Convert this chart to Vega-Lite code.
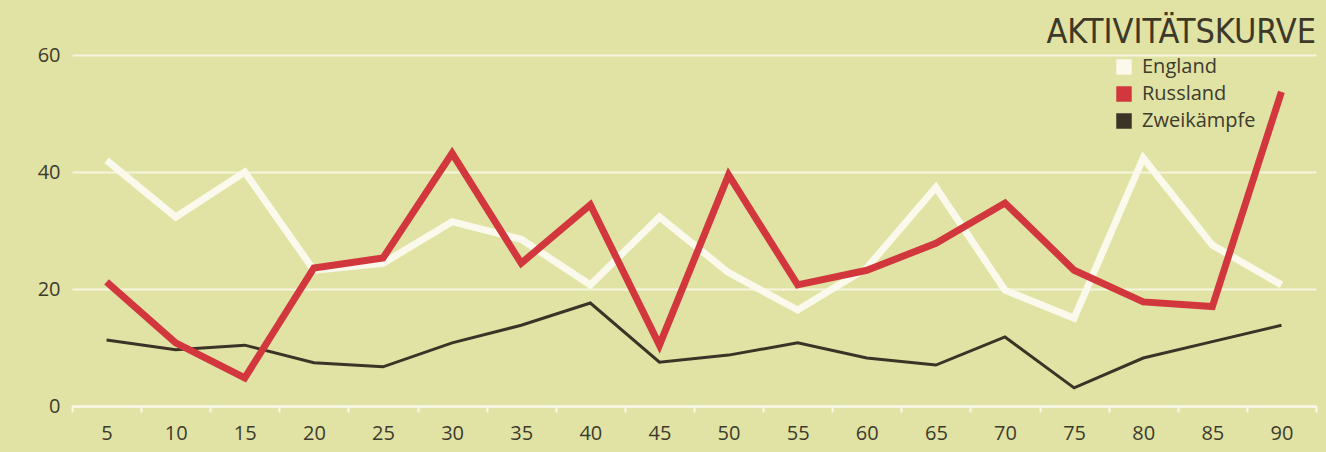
{
  "$schema": "https://vega.github.io/schema/vega-lite/v6.json",
  "autosize": {"type": "none"},
  "width": 1244,
  "height": 351,
  "padding": {"left": 72, "top": 55, "right": 10, "bottom": 46},
  "background": "#e0e3a4",
  "title": {
    "text": "AKTIVITÄTSKURVE",
    "anchor": "end",
    "orient": "top",
    "frame": "group",
    "font": "DejaVu Sans Condensed",
    "fontSize": 34,
    "fontWeight": "normal",
    "color": "#3e3828",
    "offset": 0,
    "baseline": "top",
    "dy": 5
  },
  "config": {
    "view": {"stroke": null},
    "font": "Open Sans"
  },
  "data": {
    "values": [
      {"min": 5, "series": "England", "value": 42.0},
      {"min": 10, "series": "England", "value": 32.3},
      {"min": 15, "series": "England", "value": 40.0},
      {"min": 20, "series": "England", "value": 23.2},
      {"min": 25, "series": "England", "value": 24.4},
      {"min": 30, "series": "England", "value": 31.5},
      {"min": 35, "series": "England", "value": 28.5},
      {"min": 40, "series": "England", "value": 20.7},
      {"min": 45, "series": "England", "value": 32.3},
      {"min": 50, "series": "England", "value": 22.8},
      {"min": 55, "series": "England", "value": 16.4},
      {"min": 60, "series": "England", "value": 23.6},
      {"min": 65, "series": "England", "value": 37.4},
      {"min": 70, "series": "England", "value": 19.8},
      {"min": 75, "series": "England", "value": 15.0},
      {"min": 80, "series": "England", "value": 42.4},
      {"min": 85, "series": "England", "value": 27.5},
      {"min": 90, "series": "England", "value": 20.7},
      {"min": 5, "series": "Russland", "value": 21.2},
      {"min": 10, "series": "Russland", "value": 10.8},
      {"min": 15, "series": "Russland", "value": 4.8},
      {"min": 20, "series": "Russland", "value": 23.6},
      {"min": 25, "series": "Russland", "value": 25.3},
      {"min": 30, "series": "Russland", "value": 43.2},
      {"min": 35, "series": "Russland", "value": 24.4},
      {"min": 40, "series": "Russland", "value": 34.4},
      {"min": 45, "series": "Russland", "value": 10.4},
      {"min": 50, "series": "Russland", "value": 39.5},
      {"min": 55, "series": "Russland", "value": 20.7},
      {"min": 60, "series": "Russland", "value": 23.2},
      {"min": 65, "series": "Russland", "value": 27.8},
      {"min": 70, "series": "Russland", "value": 34.7},
      {"min": 75, "series": "Russland", "value": 23.2},
      {"min": 80, "series": "Russland", "value": 17.8},
      {"min": 85, "series": "Russland", "value": 17.0},
      {"min": 90, "series": "Russland", "value": 53.7},
      {"min": 5, "series": "Zweikämpfe", "value": 11.3},
      {"min": 10, "series": "Zweikämpfe", "value": 9.6},
      {"min": 15, "series": "Zweikämpfe", "value": 10.4},
      {"min": 20, "series": "Zweikämpfe", "value": 7.4},
      {"min": 25, "series": "Zweikämpfe", "value": 6.7},
      {"min": 30, "series": "Zweikämpfe", "value": 10.8},
      {"min": 35, "series": "Zweikämpfe", "value": 13.8},
      {"min": 40, "series": "Zweikämpfe", "value": 17.6},
      {"min": 45, "series": "Zweikämpfe", "value": 7.5},
      {"min": 50, "series": "Zweikämpfe", "value": 8.7},
      {"min": 55, "series": "Zweikämpfe", "value": 10.8},
      {"min": 60, "series": "Zweikämpfe", "value": 8.2},
      {"min": 65, "series": "Zweikämpfe", "value": 7.0},
      {"min": 70, "series": "Zweikämpfe", "value": 11.8},
      {"min": 75, "series": "Zweikämpfe", "value": 3.1},
      {"min": 80, "series": "Zweikämpfe", "value": 8.2},
      {"min": 85, "series": "Zweikämpfe", "value": 11.0},
      {"min": 90, "series": "Zweikämpfe", "value": 13.8}
    ]
  },
  "encoding": {
    "x": {
      "field": "min",
      "type": "ordinal",
      "bandPosition": 0.5,
      "scale": {"type": "band", "paddingInner": 0, "paddingOuter": 0},
      "axis": {
        "title": null,
        "labelAngle": 0,
        "labelFontSize": 20,
        "labelFontWeight": 500,
        "labelColor": "#3d3b2d",
        "labelPadding": 11,
        "tickBand": "extent",
        "tickColor": "#f8f6e4",
        "tickWidth": 2,
        "tickSize": 6,
        "domainColor": "#f8f6e4",
        "domainWidth": 2.5,
        "grid": false
      }
    },
    "y": {
      "field": "value",
      "type": "quantitative",
      "scale": {"domain": [0, 60], "nice": false},
      "axis": {
        "title": null,
        "values": [0, 20, 40, 60],
        "labelFontSize": 20,
        "labelFontWeight": 500,
        "labelColor": "#3d3b2d",
        "labelPadding": 12,
        "ticks": false,
        "domain": false,
        "grid": true,
        "gridColor": "#f8f6e4",
        "gridWidth": 2,
        "gridOpacity": 0.9
      }
    },
    "color": {
      "field": "series",
      "type": "nominal",
      "scale": {
        "domain": ["England", "Russland", "Zweikämpfe"],
        "range": ["#fbf9ec", "#d2373d", "#3b3426"]
      },
      "legend": {
        "title": null,
        "orient": "none",
        "legendX": 1042,
        "legendY": 2,
        "symbolType": "square",
        "symbolSize": 240,
        "symbolStrokeWidth": 0,
        "symbolOpacity": 1,
        "labelFontSize": 20,
        "labelFontWeight": 500,
        "labelColor": "#3d3b2d",
        "labelFont": "Open Sans",
        "rowPadding": 7,
        "labelOffset": 8,
        "encode": {
          "symbols": {
            "update": {
              "fill": {"scale": "color", "field": "value"},
              "fillOpacity": {"value": 1},
              "strokeWidth": {"value": 0}
            }
          }
        }
      }
    }
  },
  "layer": [
    {
      "transform": [{"filter": "datum.series === 'Zweikämpfe'"}],
      "mark": {"type": "line", "strokeWidth": 3, "strokeJoin": "miter"}
    },
    {
      "transform": [{"filter": "datum.series === 'England'"}],
      "mark": {"type": "line", "strokeWidth": 7, "strokeJoin": "miter"}
    },
    {
      "transform": [{"filter": "datum.series === 'Russland'"}],
      "mark": {"type": "line", "strokeWidth": 7, "strokeJoin": "miter"}
    }
  ]
}
